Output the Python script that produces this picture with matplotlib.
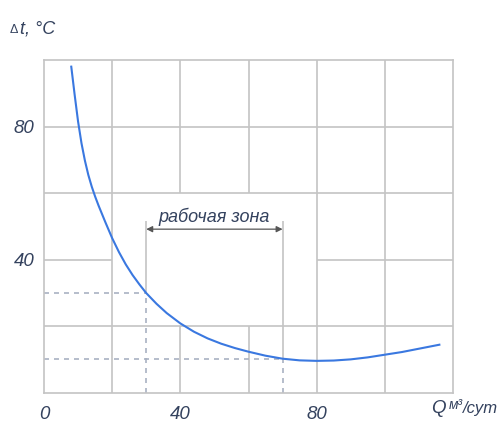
import matplotlib.pyplot as plt
import numpy as np

# Q, m3/day  vs  temperature rise dt, C
q = np.array([8, 9, 10, 11, 12, 13, 14, 15, 16, 18, 20, 22, 24, 26, 28, 30,
              33, 36, 40, 44, 48, 52, 56, 60, 65, 70, 75, 80, 85, 90, 95,
              100, 105, 110, 116])
dt = np.array([98, 89.5, 81.5, 75, 69.8, 65.5, 62, 59, 56.3, 51.3, 46.5, 42.3,
               38.6, 35.4, 32.6, 30, 26.8, 24.0, 20.9, 18.4, 16.4, 14.8, 13.5,
               12.4, 11.2, 10.3, 9.8, 9.65, 9.75, 10.1, 10.7, 11.5, 12.3,
               13.3, 14.5])

# working zone limits
zone = [30, 70]
zone_top = 51.6
arrow_y = 49.2

xticks = [0, 40, 80]
yticks = [40, 80]

grid_c = '#c4c4c4'
text_c = '#34425e'
dash_c = '#a9b1c2'
line_c = '#3a78e0'

fig = plt.figure(figsize=(5.02, 4.23), dpi=100)
ax = fig.add_axes([44 / 502, 30 / 423, 409 / 502, 333 / 423])
ax.set_xlim(0, 120)
ax.set_ylim(0, 100)

for s in ax.spines.values():
    s.set_color(grid_c)
    s.set_linewidth(1.2)

# grid, with a blank window around the label of the working zone
for y in [20, 60, 80]:
    ax.hlines(y, 0, 120, color=grid_c, lw=1.2, zorder=1)
ax.hlines(40, 0, 20, color=grid_c, lw=1.2, zorder=1)
ax.hlines(40, 80, 120, color=grid_c, lw=1.2, zorder=1)
for x in [20, 80, 100]:
    ax.vlines(x, 0, 100, color=grid_c, lw=1.2, zorder=1)
for x in [40, 60]:
    ax.vlines(x, 0, 20, color=grid_c, lw=1.2, zorder=1)
    ax.vlines(x, 60, 100, color=grid_c, lw=1.2, zorder=1)

# working zone marks
for zq in zone:
    zdt = dt[list(q).index(zq)]
    ax.vlines(zq, zdt, zone_top, color=grid_c, lw=1.2, zorder=2)
    ax.vlines(zq, 0, zdt, color=dash_c, lw=1.2, ls=(0, (3, 3)), zorder=2)
    ax.hlines(zdt, 0, zq, color=dash_c, lw=1.2, ls=(0, (3, 3)), zorder=2)
ax.annotate('', xy=(zone[0], arrow_y), xytext=(zone[1], arrow_y),
            arrowprops=dict(arrowstyle='<|-|>', color='#555555', lw=0.9,
                            mutation_scale=9, shrinkA=0, shrinkB=0))
ax.text(sum(zone) / 2, 51.3, 'рабочая зона', ha='center', va='baseline',
        fontsize=13, style='italic', color=text_c, family='Liberation Sans')

ax.plot(q, dt, color=line_c, lw=1.5, zorder=3)

ax.set_xticks(xticks)
ax.set_yticks(yticks)
ax.tick_params(length=0, labelsize=13.5, labelcolor=text_c)
ax.tick_params(axis='x', pad=9)
ax.tick_params(axis='y', pad=7)
for lab in ax.get_xticklabels() + ax.get_yticklabels():
    lab.set_fontstyle('italic')
    lab.set_family('Liberation Sans')

# axis titles
fig.text(431 / 502, 1 - 413 / 423, 'Q', fontsize=13.5, style='italic',
         color=text_c, family='Liberation Sans', va='baseline')
fig.text(449 / 502, 1 - 409 / 423, 'м³', fontsize=10, style='italic',
         color=text_c, family='Liberation Sans', va='baseline')
fig.text(463 / 502, 1 - 413 / 423, '/сут', fontsize=12, style='italic',
         color=text_c, family='Liberation Sans', va='baseline')
fig.text(10 / 502, 1 - 33 / 423, 'Δ', fontsize=9, color=text_c,
         family='Liberation Sans', va='baseline')
fig.text(20 / 502, 1 - 33 / 423, 't, °C', fontsize=13, style='italic',
         color=text_c, family='Liberation Sans', va='baseline')

fig.savefig('out.png', dpi=100)
